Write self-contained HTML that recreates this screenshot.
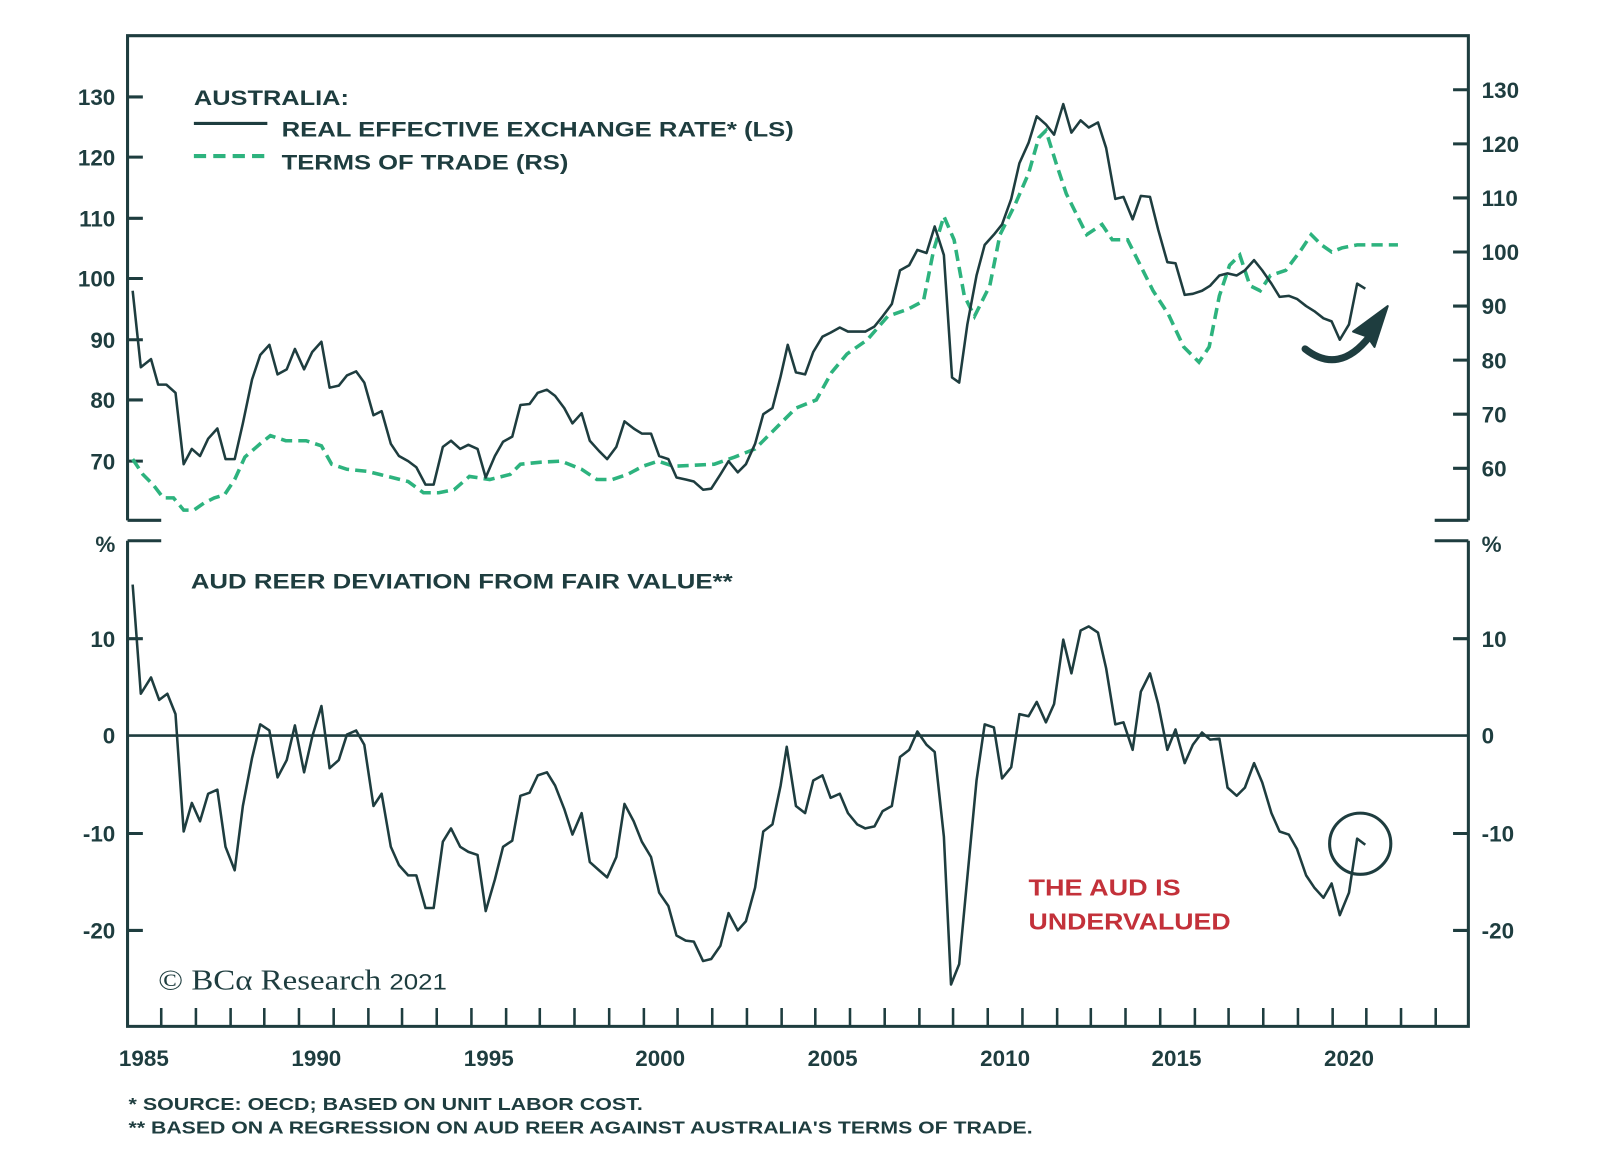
<!DOCTYPE html>
<html><head><meta charset="utf-8"><style>
html,body{margin:0;padding:0;background:#fff;}
svg{display:block;}
text{font-family:"Liberation Sans",Arial,sans-serif;fill:#1e3d3f;font-weight:bold;}
</style></head><body>
<svg width="1600" height="1160" viewBox="0 0 1568 1137" preserveAspectRatio="none" xmlns="http://www.w3.org/2000/svg">
<rect width="1568" height="1137" fill="#fff"/>
<g stroke="#1e3d3f" stroke-width="3" fill="none">
<path d="M125,510 V35 H1439 V510"/>
<path d="M125,530 V1006 H1439 V530"/>
<path d="M125,510 H158 M125,530 H158 M1439,510 H1406 M1439,530 H1406"/>
<path d="M125,95H140M125,154H140M125,214H140M125,273H140M125,333H140M125,392H140M125,452H140"/>
<path d="M1439,88H1424M1439,141H1424M1439,194H1424M1439,247H1424M1439,300H1424M1439,353H1424M1439,406H1424M1439,459H1424"/>
<path d="M125,626H140M125,817H140M125,912H140M1439,626H1424M1439,817H1424M1439,912H1424"/>
<path d="M125,721H1439" stroke-width="2.5"/>
<path d="M158,1006v-18M192,1006v-18M226,1006v-18M259,1006v-18M293,1006v-18M327,1006v-18M361,1006v-18M394,1006v-18M428,1006v-18M462,1006v-18M496,1006v-18M529,1006v-18M563,1006v-18M597,1006v-18M631,1006v-18M664,1006v-18M698,1006v-18M732,1006v-18M766,1006v-18M799,1006v-18M833,1006v-18M867,1006v-18M901,1006v-18M934,1006v-18M968,1006v-18M1002,1006v-18M1036,1006v-18M1069,1006v-18M1103,1006v-18M1137,1006v-18M1171,1006v-18M1204,1006v-18M1238,1006v-18M1272,1006v-18M1306,1006v-18M1339,1006v-18M1373,1006v-18M1407,1006v-18" stroke-width="2.5"/>
</g>
<g font-size="22" text-anchor="end">
<text x="113" y="103">130</text><text x="113" y="162">120</text><text x="113" y="222">110</text><text x="113" y="281">100</text><text x="113" y="341">90</text><text x="113" y="400">80</text><text x="113" y="460">70</text>
<text x="113" y="541">%</text><text x="113" y="634">10</text><text x="113" y="729">0</text><text x="113" y="825">-10</text><text x="113" y="920">-20</text>
</g>
<g font-size="22">
<text x="1452" y="96">130</text><text x="1452" y="149">120</text><text x="1452" y="202">110</text><text x="1452" y="255">100</text><text x="1452" y="308">90</text><text x="1452" y="361">80</text><text x="1452" y="414">70</text><text x="1452" y="467">60</text>
<text x="1452" y="541">%</text><text x="1452" y="634">10</text><text x="1452" y="729">0</text><text x="1452" y="825">-10</text><text x="1452" y="920">-20</text>
</g>
<g font-size="22" text-anchor="middle">
<text x="141" y="1045">1985</text><text x="310" y="1045">1990</text><text x="479" y="1045">1995</text><text x="647" y="1045">2000</text><text x="816" y="1045">2005</text><text x="985" y="1045">2010</text><text x="1153" y="1045">2015</text><text x="1322" y="1045">2020</text>
</g>
<text x="190" y="103" font-size="21" textLength="152" lengthAdjust="spacingAndGlyphs">AUSTRALIA:</text>
<text x="276" y="134" font-size="21" textLength="502" lengthAdjust="spacingAndGlyphs">REAL EFFECTIVE EXCHANGE RATE* (LS)</text>
<text x="276" y="166" font-size="21" textLength="281" lengthAdjust="spacingAndGlyphs">TERMS OF TRADE (RS)</text>
<line x1="190" y1="121" x2="262" y2="121" stroke="#1e3d3f" stroke-width="3"/>
<line x1="190" y1="153" x2="262" y2="153" stroke="#2db37e" stroke-width="4" stroke-dasharray="12,7"/>
<text x="187" y="577" font-size="21" textLength="531" lengthAdjust="spacingAndGlyphs">AUD REER DEVIATION FROM FAIR VALUE**</text>
<text x="1008" y="878" font-size="23" textLength="149" lengthAdjust="spacingAndGlyphs" style="fill:#c3313a">THE AUD IS</text>
<text x="1008" y="911" font-size="23" textLength="198" lengthAdjust="spacingAndGlyphs" style="fill:#c3313a">UNDERVALUED</text>
<text x="155" y="970" font-size="28" textLength="283" lengthAdjust="spacingAndGlyphs" style="font-family:'Liberation Serif',serif;font-weight:normal">© BCα Research <tspan font-size="22" style="font-family:'Liberation Sans',sans-serif;font-weight:normal">2021</tspan></text>
<text x="126" y="1088" font-size="17" textLength="504" lengthAdjust="spacingAndGlyphs">*  SOURCE: OECD; BASED ON UNIT LABOR COST.</text>
<text x="126" y="1111" font-size="17" textLength="886" lengthAdjust="spacingAndGlyphs">** BASED ON A REGRESSION ON AUD REER AGAINST AUSTRALIA'S TERMS OF TRADE.</text>
<path fill="none" stroke="#2db37e" stroke-width="3.5" stroke-dasharray="11,6" d="M130,450L140,465L150,475L160,488L170,488L180,500L190,500L200,493L210,488L220,485L230,470L240,448L255,435L265,427L280,432L300,432L315,437L325,455L340,460L360,462L380,467L400,472L415,483L430,483L445,480L460,467L480,470L500,465L510,455L530,453L550,452L570,460L585,470L600,470L615,465L630,457L645,452L660,457L680,456L700,455L720,448L740,440L760,420L780,400L800,392L815,365L830,347L850,333L870,310L890,303L905,295L915,245L925,212L935,235L945,290L955,310L970,280L980,230L995,200L1008,170L1018,135L1025,128L1035,160L1045,190L1055,210L1065,230L1080,220L1090,235L1105,235L1115,255L1130,285L1145,308L1160,340L1175,355L1185,340L1195,290L1205,260L1215,250L1225,280L1235,285L1245,270L1260,265L1275,245L1285,230L1295,240L1305,247L1315,243L1330,240L1370,240"/>
<path fill="none" stroke="#1e3d3f" stroke-width="2.5" stroke-linejoin="round" d="M130,285L138,360L148,352L155,377L163,377L172,385L180,455L188,440L196,447L204,430L213,420L221,450L230,450L238,415L247,372L255,348L264,338L272,367L281,362L289,342L298,362L306,345L315,335L323,380L332,378L340,368L349,364L357,375L366,407L374,403L383,435L391,447L400,452L408,458L417,475L425,475L434,438L442,432L451,440L459,436L468,440L476,468L485,447L493,433L502,428L510,397L519,396L527,385L536,382L544,388L553,400L561,415L570,405L578,432L587,442L595,450L604,438L612,413L621,420L629,425L638,425L646,447L655,450L663,468L672,470L680,472L689,480L697,479L706,465L714,452L723,463L731,455L740,435L748,406L757,400L765,369L772,338L780,365L789,367L797,345L806,330L814,326L823,321L831,325L840,325L848,325L857,320L865,310L874,298L882,265L891,260L899,245L908,248L916,222L925,250L933,370L940,375L948,318L957,270L965,240L974,230L982,220L991,195L999,160L1008,140L1016,114L1025,122L1033,132L1042,102L1050,130L1059,118L1067,125L1076,120L1084,145L1093,195L1101,193L1110,215L1118,192L1127,193L1135,225L1144,257L1152,258L1161,289L1169,288L1178,285L1186,280L1195,270L1203,268L1212,270L1220,265L1229,255L1237,265L1246,278L1254,291L1263,290L1271,293L1280,300L1288,305L1297,312L1305,315L1313,333L1322,318L1330,278L1338,283"/>
<path fill="none" stroke="#1e3d3f" stroke-width="2.5" stroke-linejoin="round" d="M130,573L138,680L148,664L156,686L164,680L172,700L180,815L188,787L196,805L204,778L213,774L221,830L230,853L238,790L247,743L255,710L264,716L272,762L281,745L289,711L298,757L306,722L315,692L323,753L332,745L340,720L349,716L357,730L366,790L374,778L383,830L391,848L400,858L408,858L417,890L425,890L434,825L442,812L451,830L459,835L468,838L476,893L485,862L493,830L502,824L510,780L519,777L527,760L536,757L544,770L553,793L561,818L570,797L578,845L587,853L595,860L604,840L612,788L621,805L629,825L638,840L646,875L655,888L663,917L672,922L680,923L689,942L697,940L706,927L714,895L723,912L731,903L740,870L748,815L757,808L765,770L771,732L780,790L789,797L797,765L806,760L814,782L823,778L831,797L840,808L848,812L857,810L865,795L874,790L882,742L891,735L899,717L908,730L916,737L925,820L932,965L940,945L948,860L957,765L965,710L974,713L982,763L991,752L999,700L1008,702L1016,688L1025,708L1033,690L1042,627L1050,660L1059,618L1067,614L1076,620L1084,655L1093,710L1101,708L1110,735L1118,678L1127,660L1135,690L1144,735L1152,715L1161,748L1169,730L1178,718L1186,725L1195,724L1203,772L1212,780L1220,772L1229,748L1237,767L1246,797L1254,815L1263,818L1271,832L1280,858L1288,870L1297,880L1305,866L1313,897L1322,875L1330,822L1338,828"/>
<circle cx="1333" cy="827" r="30" fill="none" stroke="#1e3d3f" stroke-width="3"/>
<path d="M1279,342 Q1312,368 1342,330" fill="none" stroke="#1e3d3f" stroke-width="7" stroke-linecap="round"/>
<path d="M1360,300 L1326,325 L1340,330 L1347,340 Z" fill="#1e3d3f" stroke="#1e3d3f" stroke-width="2" stroke-linejoin="round"/>
</svg>
</body></html>
